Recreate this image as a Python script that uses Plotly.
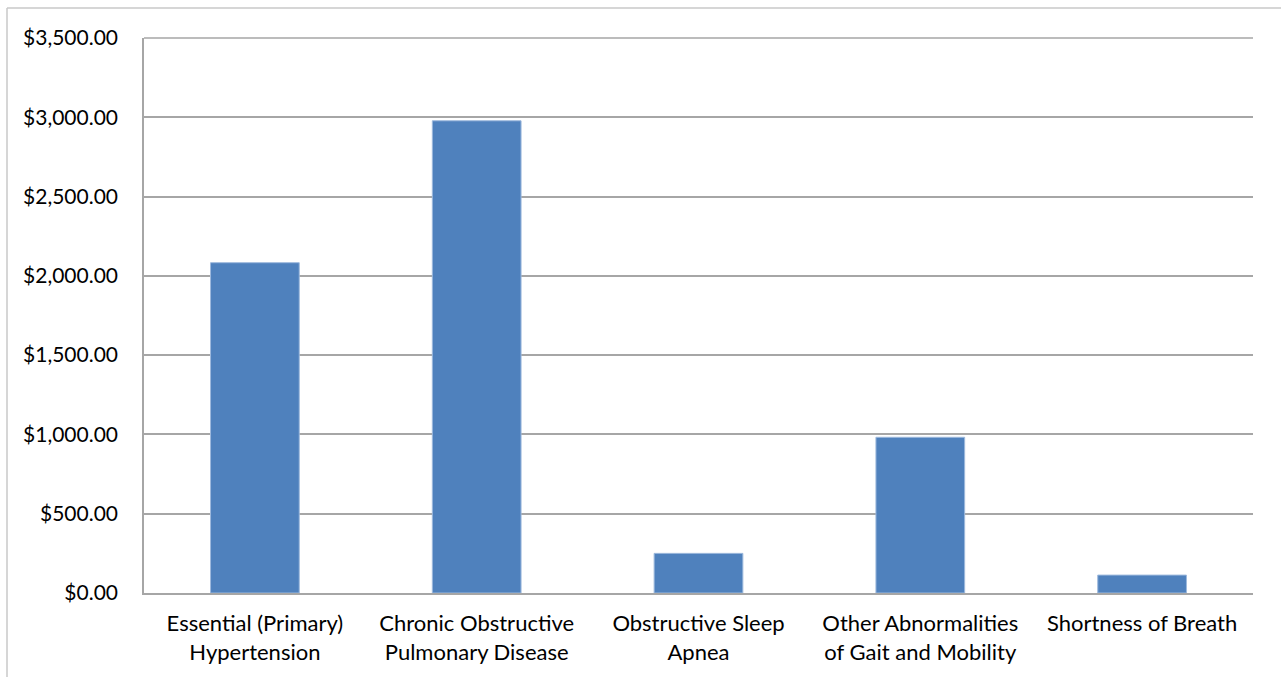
import plotly.graph_objects as go

# Cost by diagnosis
categories = [
    "Essential (Primary)<br>Hypertension",
    "Chronic Obstructive<br>Pulmonary Disease",
    "Obstructive Sleep<br>Apnea",
    "Other Abnormalities<br>of Gait and Mobility",
    "Shortness of Breath",
]
costs = [2083, 2978, 250, 982, 113]
y_ticks = [0, 500, 1000, 1500, 2000, 2500, 3000, 3500]
y_tick_labels = ["$" + f"{v:,.2f}" for v in y_ticks]

W, H = 1281, 677
L, R, T, B = 144, 28, 38, 84
pw, ph = W - L - R, H - T - B


def px_x(px):
    return (px - L) / pw


def px_y(py):
    return (H - B - py) / ph


fig = go.Figure(
    go.Bar(
        x=categories,
        y=costs,
        marker=dict(color="#4F81BD", line=dict(color="#9DB9DD", width=1)),
        hoverinfo="x+y",
    )
)

fig.update_layout(
    width=W,
    height=H,
    margin=dict(l=L, r=R, t=T, b=B),
    paper_bgcolor="white",
    plot_bgcolor="white",
    bargap=0.6,
    showlegend=False,
    font=dict(family="Lato, Carlito, Calibri, sans-serif", size=21, color="#000000"),
    xaxis=dict(
        showgrid=False,
        showline=True,
        linecolor="#A6A6A6",
        linewidth=2,
        ticks="",
        ticklabelstandoff=10,
        tickfont=dict(size=22),
    ),
    yaxis=dict(
        range=[0, 3500],
        tickvals=y_ticks,
        ticktext=y_tick_labels,
        showgrid=True,
        gridcolor="#A6A6A6",
        gridwidth=1.5,
        zeroline=False,
        showline=True,
        linecolor="#A6A6A6",
        linewidth=1.5,
        ticks="",
        ticklabelstandoff=20,
        tickfont=dict(size=21),
    ),
    shapes=[
        # chart frame: top and left edges
        dict(type="line", xref="paper", yref="paper",
             x0=px_x(7), x1=px_x(W + 5), y0=px_y(8), y1=px_y(8),
             line=dict(color="#C8C8C8", width=1.5)),
        dict(type="line", xref="paper", yref="paper",
             x0=px_x(7), x1=px_x(7), y0=px_y(8), y1=px_y(H + 5),
             line=dict(color="#C8C8C8", width=1.5)),
        # top border of plot area
        dict(type="line", xref="paper", yref="paper",
             x0=0, x1=1, y0=1, y1=1,
             line=dict(color="#A6A6A6", width=1.5)),
    ],
)

fig.write_html("out.html")
